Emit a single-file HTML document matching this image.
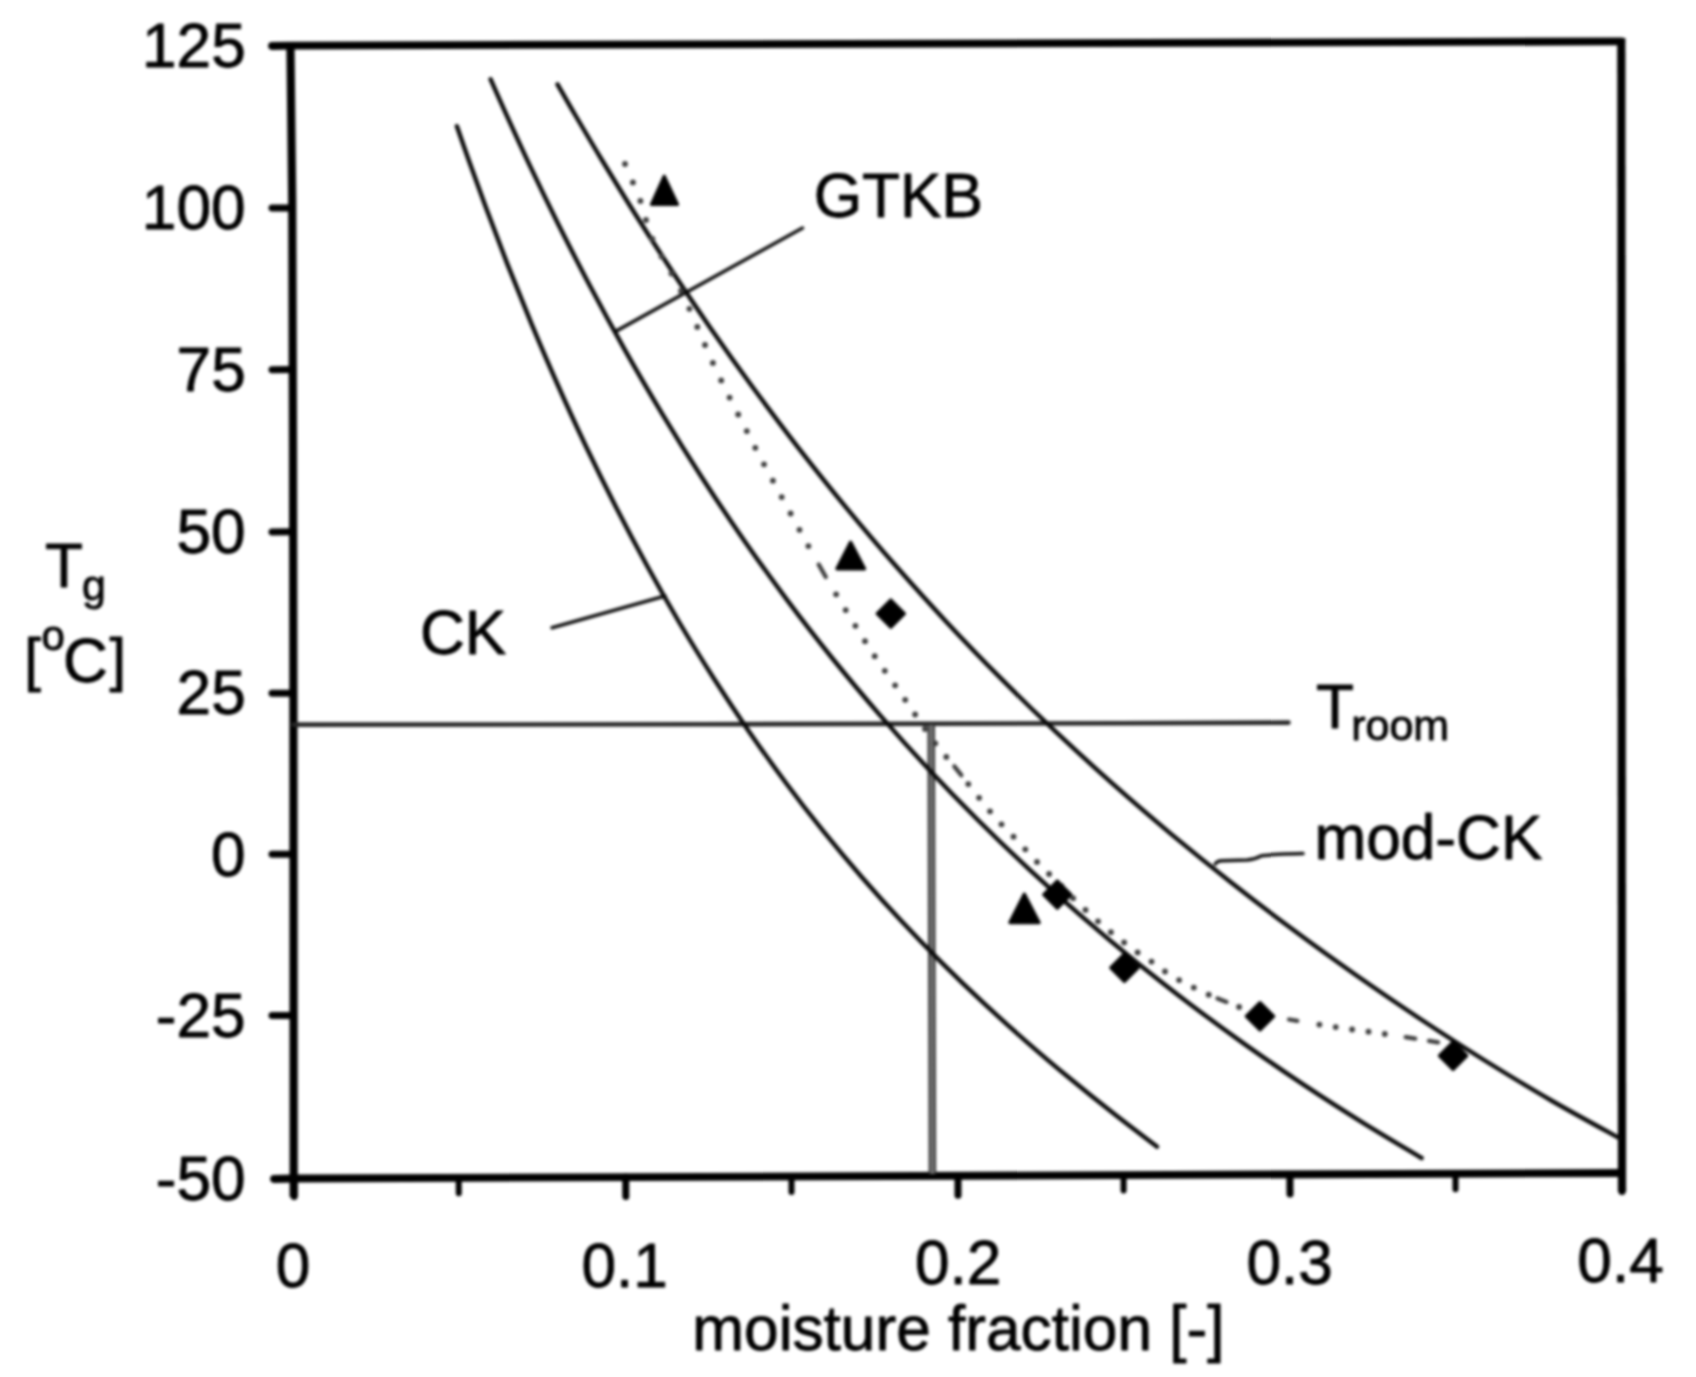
<!DOCTYPE html>
<html lang="en"><head><meta charset="utf-8"><title>Glass transition temperature versus moisture fraction</title>
<style>
html,body{margin:0;padding:0;background:#fff}
body{width:1696px;height:1377px;overflow:hidden}
svg{display:block;filter:blur(1.7px)}
text{font-family:"Liberation Sans",Arial,Helvetica,sans-serif;fill:#000;stroke:#000;stroke-width:0.85px;stroke-linejoin:round}
.ax{stroke:#000;stroke-width:8.2;fill:none;stroke-linecap:butt}
.tk{stroke:#000;stroke-width:7;fill:none;stroke-linecap:round;stroke-linejoin:round}
.fr{stroke:#000;stroke-width:7.8;fill:none;stroke-linecap:round;stroke-linejoin:round}
.mt{stroke:#000;stroke-width:6;fill:none;stroke-linecap:round}
.cv{stroke:#0a0a0a;stroke-width:4.4;fill:none;stroke-linecap:round}
.ld{stroke:#111;stroke-width:3.5;fill:none;stroke-linecap:round}
.dt path{stroke:#3c3c3c;stroke-width:5.8;fill:none;stroke-linecap:round}
.mk{fill:#000;stroke:#000;stroke-width:3.4;stroke-linejoin:round}
</style></head><body>
<svg width="1696" height="1377" viewBox="0 0 1696 1377">
<rect width="1696" height="1377" fill="#fff"/>
<g id="frame">
<path class="ax" d="M290.4 42 L292.2 200 L293 450 L293.4 700 L293.7 1197"/>
<path class="ax" d="M1621.3 38 L1622 1192"/>
<path class="fr" d="M272 46 L290.4 45.6 L1621.3 41.4"/>
<path class="fr" d="M274 1179 L294 1178.5 L1622 1173"/>
<path class="tk" d="M294 1180 L294.1 1196.5"/>
<path class="tk" d="M1622 1176 L1622 1191.5"/>
</g>
<g id="yticks">
<path class="tk" d="M272 208.1 L292.2 208.0"/>
<path class="tk" d="M272 369.7 L292.7 369.6"/>
<path class="tk" d="M272 531.9 L293.1 531.8"/>
<path class="tk" d="M272 693.3 L293.4 693.2"/>
<path class="tk" d="M272 854.3 L293.5 854.2"/>
<path class="tk" d="M272 1015.6 L293.6 1015.5"/>
</g>
<g id="xticks">
<path class="tk" d="M625.7 1177.1 L625.8 1196.6"/>
<path class="tk" d="M958.0 1175.7 L958.0 1195.2"/>
<path class="tk" d="M1289.9 1174.4 L1290.0 1193.9"/>
<path class="mt" d="M458.7 1177.8 L458.8 1193.3"/>
<path class="mt" d="M791.5 1176.4 L791.5 1191.9"/>
<path class="mt" d="M1123.6 1175.1 L1123.6 1190.6"/>
<path class="mt" d="M1455.5 1173.7 L1455.5 1189.2"/>
</g>
<path class="ld" d="M293.5 724.6 L700 724.3 L1120 723.2 L1288.5 722.6" style="stroke:#262626;stroke-width:4.6"/>
<path d="M931.2 725 L932.4 1174" fill="none" stroke="#747474" stroke-width="6.1"/>
<path d="M928.4 725 L929.6 1174 M934 725 L935.2 1174" fill="none" stroke="#3a3a3a" stroke-width="2"/>
<path class="ld" d="M615.6 331.4 L802.5 228"/>
<path class="ld" d="M552 627.7 L665 596"/>
<path class="ld" d="M1215.3 864 Q1216.8 860.9 1222 860.7 L1247 860.1 Q1255 859.4 1261.5 855.8 Q1270 854.3 1303 853.6"/>
<path class="cv" d="M456.9 126.2 C458.8 131.7 463.5 145.5 468.4 159.2 C473.3 172.9 479.7 190.8 486.2 208.3 C492.7 225.9 500.0 245.1 507.5 264.4 C515.1 283.7 523.2 303.8 531.5 323.9 C539.9 344.0 548.7 364.6 557.8 385.0 C566.8 405.4 576.3 426.0 585.9 446.3 C595.6 466.6 605.6 486.8 615.8 506.8 C626.0 526.8 636.5 546.6 647.2 566.0 C657.9 585.5 668.8 604.7 679.9 623.5 C691.1 642.3 702.5 660.7 714.0 678.8 C725.6 696.9 737.4 714.6 749.3 731.9 C761.3 749.3 773.5 766.2 785.8 782.7 C798.1 799.3 810.6 815.4 823.3 831.2 C836.0 846.9 848.9 862.3 861.9 877.3 C874.9 892.3 888.1 906.9 901.4 921.1 C914.7 935.4 928.2 949.3 941.9 962.9 C955.5 976.5 969.3 989.8 983.2 1002.7 C997.2 1015.7 1011.3 1028.4 1025.5 1040.8 C1039.7 1053.2 1054.0 1065.4 1068.5 1077.3 C1083.0 1089.3 1097.6 1101.0 1112.4 1112.5 C1127.1 1124.1 1149.6 1141.0 1157.0 1146.7"/>
<path class="cv" d="M490.6 79.3 C493.1 85.0 499.4 99.4 505.9 113.6 C512.4 127.9 520.9 146.6 529.5 164.9 C538.2 183.3 547.9 203.4 557.9 223.5 C568.0 243.6 578.7 264.7 589.9 285.8 C601.0 306.8 612.7 328.3 624.7 349.7 C636.8 371.1 649.3 392.6 662.2 413.9 C675.0 435.2 688.3 456.5 701.9 477.5 C715.4 498.4 729.4 519.2 743.6 539.7 C757.8 560.1 772.4 580.3 787.2 600.1 C802.0 619.9 817.2 639.4 832.5 658.5 C847.9 677.5 863.6 696.3 879.5 714.6 C895.4 732.9 911.6 750.9 928.0 768.4 C944.4 786.0 961.0 803.2 977.9 820.0 C994.7 836.8 1011.8 853.2 1029.2 869.3 C1046.5 885.4 1064.0 901.1 1081.7 916.4 C1099.5 931.8 1117.4 946.8 1135.5 961.5 C1153.7 976.1 1172.0 990.5 1190.5 1004.5 C1209.1 1018.5 1227.8 1032.2 1246.7 1045.6 C1265.6 1059.0 1284.7 1072.1 1303.9 1084.9 C1323.2 1097.7 1342.6 1110.2 1362.3 1122.3 C1381.9 1134.5 1411.7 1152.0 1421.6 1158.0"/>
<path class="cv" d="M557.5 84.3 C560.4 89.3 567.5 101.9 574.9 114.5 C582.3 127.1 592.0 143.6 601.9 160.0 C611.8 176.3 622.8 194.3 634.2 212.5 C645.7 230.7 658.0 249.8 670.7 269.0 C683.4 288.3 696.7 308.1 710.4 327.9 C724.2 347.7 738.5 367.8 753.1 387.8 C767.8 407.7 782.9 427.9 798.4 447.8 C813.9 467.7 829.7 487.6 846.0 507.3 C862.2 526.9 878.8 546.5 895.7 565.8 C912.6 585.0 929.8 604.1 947.4 622.9 C964.9 641.7 982.8 660.2 1000.9 678.4 C1019.0 696.6 1037.5 714.6 1056.2 732.2 C1074.9 749.8 1093.9 767.1 1113.1 784.2 C1132.3 801.2 1151.8 817.9 1171.5 834.4 C1191.3 850.8 1211.3 866.9 1231.5 882.8 C1251.7 898.7 1272.2 914.3 1292.8 929.6 C1313.5 945.0 1334.4 960.0 1355.5 974.8 C1376.7 989.6 1398.0 1004.2 1419.6 1018.5 C1441.1 1032.7 1462.9 1046.8 1484.8 1060.5 C1506.8 1074.1 1529.0 1087.6 1551.3 1100.5 C1573.7 1113.4 1607.7 1131.7 1619.0 1137.9"/>
<g class="dt">
<path style="stroke-width:4.3" d="M818.7 564.5 L825.8 577.0"/>
<path style="stroke-width:4.3" d="M954.3 766.4 L961.3 775.2"/>
<path style="stroke-width:4.3" d="M1217.5 998.5 L1226.5 1001.9"/>
<path style="stroke-width:4.3" d="M1289.1 1019.5 L1297.3 1020.9"/>
<path style="stroke-width:4.3" d="M1405.7 1037.2 L1415.2 1038.7"/>
<path style="stroke-width:4.3" d="M1429.0 1040.9 L1438.0 1042.4"/>
<path d="M625.0 164.0 h0.01"/>
<path d="M632.9 182.4 h0.01"/>
<path d="M640.4 200.9 h0.01"/>
<path d="M646.0 220.0 h0.01"/>
<path d="M652.4 238.8 h0.01"/>
<path d="M661.6 256.4 h0.01"/>
<path d="M671.5 273.5 h0.01"/>
<path d="M681.0 290.9 h0.01"/>
<path d="M689.4 308.8 h0.01"/>
<path d="M697.3 326.9 h0.01"/>
<path d="M705.0 345.0 h0.01"/>
<path d="M712.9 362.9 h0.01"/>
<path d="M721.2 380.4 h0.01"/>
<path d="M729.6 397.6 h0.01"/>
<path d="M738.2 414.5 h0.01"/>
<path d="M746.8 431.1 h0.01"/>
<path d="M755.3 447.8 h0.01"/>
<path d="M764.0 464.3 h0.01"/>
<path d="M772.9 480.7 h0.01"/>
<path d="M781.7 497.1 h0.01"/>
<path d="M790.6 513.5 h0.01"/>
<path d="M799.5 529.8 h0.01"/>
<path d="M808.4 546.1 h0.01"/>
<path d="M836.1 594.3 h0.01"/>
<path d="M845.7 610.1 h0.01"/>
<path d="M855.4 625.8 h0.01"/>
<path d="M865.0 641.2 h0.01"/>
<path d="M874.7 656.2 h0.01"/>
<path d="M884.8 670.8 h0.01"/>
<path d="M895.1 685.3 h0.01"/>
<path d="M905.2 699.8 h0.01"/>
<path d="M915.1 714.5 h0.01"/>
<path d="M925.0 729.0 h0.01"/>
<path d="M935.3 743.3 h0.01"/>
<path d="M946.3 756.9 h0.01"/>
<path d="M968.3 784.1 h0.01"/>
<path d="M979.1 797.8 h0.01"/>
<path d="M990.0 811.3 h0.01"/>
<path d="M1001.5 824.3 h0.01"/>
<path d="M1013.5 836.7 h0.01"/>
<path d="M1025.3 849.3 h0.01"/>
<path d="M1037.0 861.9 h0.01"/>
<path d="M1049.1 874.0 h0.01"/>
<path d="M1061.3 886.0 h0.01"/>
<path d="M1073.1 898.2 h0.01"/>
<path d="M1085.5 909.9 h0.01"/>
<path d="M1098.0 921.3 h0.01"/>
<path d="M1110.9 932.2 h0.01"/>
<path d="M1124.1 942.5 h0.01"/>
<path d="M1137.6 952.4 h0.01"/>
<path d="M1151.5 961.6 h0.01"/>
<path d="M1165.0 971.5 h0.01"/>
<path d="M1179.1 980.1 h0.01"/>
<path d="M1193.8 987.6 h0.01"/>
<path d="M1208.7 994.7 h0.01"/>
<path d="M1239.1 1007.0 h0.01"/>
<path d="M1254.7 1012.1 h0.01"/>
<path d="M1270.7 1015.9 h0.01"/>
<path d="M1319.4 1024.6 h0.01"/>
<path d="M1335.7 1027.1 h0.01"/>
<path d="M1352.1 1029.5 h0.01"/>
<path d="M1368.5 1031.7 h0.01"/>
<path d="M1384.8 1034.0 h0.01"/>
</g>
<g class="mk">
<path d="M664.2 176.4 L677.4 204.4 L651.6 204.4 Z"/>
<path d="M850.6 542.4 L864.5 568.8 L837.0 568.8 Z"/>
<path d="M1024.3 894.3 L1039.0 922.6 L1010.0 922.6 Z"/>
<path d="M890.8 600.1 L904.3 613.6 L890.8 627.1 L877.3 613.6 Z"/>
<path d="M1057.3 881.1 L1070.8 894.6 L1057.3 908.1 L1043.8 894.6 Z"/>
<path d="M1124.4 954.3 L1137.9 967.8 L1124.4 981.3 L1110.9 967.8 Z"/>
<path d="M1260.0 1002.8 L1273.5 1016.3 L1260.0 1029.8 L1246.5 1016.3 Z"/>
<path d="M1453.1 1042.3 L1466.6 1055.8 L1453.1 1069.3 L1439.6 1055.8 Z"/>
</g>
<g id="labels">
<text x="142.0" y="66.9" font-size="62.2">125</text>
<text x="141.8" y="229.1" font-size="62.2">100</text>
<text x="176.6" y="390.7" font-size="62.2">75</text>
<text x="176.5" y="552.9" font-size="62.2">50</text>
<text x="176.6" y="713.6" font-size="62.2">25</text>
<text x="211.0" y="875.8" font-size="62.2">0</text>
<text x="155.8" y="1036.6" font-size="62.2">-25</text>
<text x="155.7" y="1200.1" font-size="62.2">-50</text>
<text x="581.5" y="1286.6" font-size="62.2">0.1</text>
<text x="275.7" y="1286.9" font-size="62.2">0</text>
<text x="915.0" y="1284.3" font-size="62.2">0.2</text>
<text x="1246.5" y="1283.7" font-size="62.2">0.3</text>
<text x="1577.3" y="1282.4" font-size="62.2">0.4</text>
<text x="692.3" y="1349.8" font-size="62.2">moisture fraction [-]</text>
<text x="813.7" y="216.6" font-size="62.2">GTKB</text>
<text x="419.9" y="654.0" font-size="62.2">CK</text>
<text x="1314.4" y="858.5" font-size="62.2">mod-CK</text>
<text x="1316.0" y="727.8" font-size="62.2">T<tspan x="1351.2" y="739.6" font-size="43">room</tspan></text>
<text x="45.1" y="587" font-size="62.2">T<tspan x="81.9" y="599.5" font-size="43">g</tspan></text>
<text x="24.2" y="680.3" font-size="60">[<tspan x="41.6" y="650" font-size="42">o</tspan><tspan x="63.1" y="681.5" font-size="62.2">C</tspan><tspan x="109.5" y="680.3" font-size="60">]</tspan></text>
</g>
</svg></body></html>
